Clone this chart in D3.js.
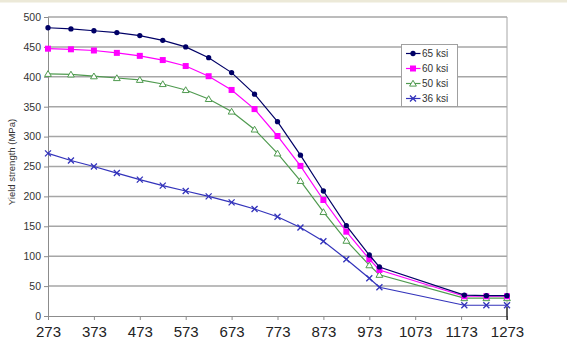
<!DOCTYPE html>
<html>
<head>
<meta charset="utf-8">
<script src="https://cdn.jsdelivr.net/npm/d3@7"></script>
<style>
  html, body { margin: 0; padding: 0; background: #fff; }
  svg { display: block; }
</style>
</head>
<body>
<svg id="chart" width="567" height="341"></svg>
<script>
// Temperature (K) and yield strength (MPa) for four steel grades
const temps = [273, 323, 373, 423, 473, 523, 573, 623, 673, 723, 773, 823, 873, 923, 973, 995, 1180, 1228, 1273];
const ksi65 = [482, 480, 477, 474, 469, 461, 450, 432, 407, 371, 325, 269, 209, 151, 102, 82, 35, 34, 34];
const ksi60 = [447, 446, 444, 440, 435, 428, 418, 401, 378, 346, 301, 251, 194, 141, 95, 77, 33, 33, 33];
const ksi50 = [405, 404, 401, 398, 395, 388, 378, 363, 342, 312, 272, 226, 174, 126, 85, 69, 30, 30, 30];
const ksi36 = [272, 260, 250, 239, 228, 218, 209, 200, 190, 179, 166, 148, 125, 95, 63, 48, 18, 18, 18];
const seriesNames = ["65 ksi", "60 ksi", "50 ksi", "36 ksi"];
const xTicks = [273, 373, 473, 573, 673, 773, 873, 973, 1073, 1173, 1273];
const yTicks = [0, 50, 100, 150, 200, 250, 300, 350, 400, 450, 500];

const svg = d3.select("#chart");

// thin window strip across the top
svg.append("rect").attr("x", 0).attr("y", 0).attr("width", 567).attr("height", 2.5).attr("fill", "#ece9d8");

const plot = { left: 48, right: 507, top: 17, bottom: 316 };
const x = d3.scaleLinear().domain([273, 1273]).range([plot.left, plot.right]);
const y = d3.scaleLinear().domain([0, 500]).range([plot.bottom, plot.top]);

// horizontal gridlines
svg.append("g").selectAll("line").data(yTicks.filter(v => v > 0)).join("line")
  .attr("x1", plot.left).attr("x2", plot.right)
  .attr("y1", d => y(d)).attr("y2", d => y(d))
  .attr("stroke", "#a6a6a6").attr("stroke-width", 1.5);

// right border of the plot area
svg.append("line").attr("x1", plot.right).attr("x2", plot.right)
  .attr("y1", plot.top).attr("y2", plot.bottom)
  .attr("stroke", "#a6a6a6").attr("stroke-width", 1);

// y axis
const yAxis = svg.append("g").attr("transform", `translate(${plot.left},0)`)
  .call(d3.axisLeft(y).tickValues(yTicks).tickSize(4).tickPadding(3));
yAxis.select(".domain").attr("stroke", "#8c8c8c");
yAxis.selectAll(".tick line").attr("stroke", "#8c8c8c");
yAxis.selectAll(".tick text").attr("font-family", "Arial, 'Liberation Sans', sans-serif")
  .attr("font-size", "10.5px").attr("fill", "#333");

// x axis
const xAxis = svg.append("g").attr("transform", `translate(0,${plot.bottom})`)
  .call(d3.axisBottom(x).tickValues(xTicks).tickFormat(d3.format("d")).tickSize(4).tickPadding(6));
xAxis.select(".domain").attr("stroke", "#8c8c8c");
xAxis.selectAll(".tick line").attr("stroke", "#8c8c8c");
xAxis.selectAll(".tick text").attr("font-family", "Arial, 'Liberation Sans', sans-serif")
  .attr("font-size", "15px").attr("fill", "#222");

// short dark marker at the end of the x axis
svg.append("line").attr("x1", x(1273)).attr("x2", x(1273))
  .attr("y1", plot.bottom - 9).attr("y2", plot.bottom + 4)
  .attr("stroke", "#111").attr("stroke-width", 1.2);

// y axis title
svg.append("text")
  .attr("transform", `translate(15,162) rotate(-90)`)
  .attr("text-anchor", "middle")
  .attr("font-family", "Arial, 'Liberation Sans', sans-serif")
  .attr("font-size", "9.5px").attr("fill", "#333")
  .text("Yield strength (MPa)");

const series = [
  { name: seriesNames[0], values: ksi65, color: "#000066", marker: "diamond" },
  { name: seriesNames[1], values: ksi60, color: "#ff00ff", marker: "square" },
  { name: seriesNames[2], values: ksi50, color: "#4f9a4f", marker: "triangle" },
  { name: seriesNames[3], values: ksi36, color: "#3333bb", marker: "cross" }
];

function drawMarker(g, type, color) {
  if (type === "diamond") {
    g.append("path").attr("d", d3.symbol(d3.symbolCircle, 22)()).attr("fill", color);
  } else if (type === "square") {
    g.append("rect").attr("x", -3).attr("y", -3).attr("width", 6).attr("height", 6).attr("fill", color);
  } else if (type === "triangle") {
    g.append("path").attr("d", "M0,-3.2L3.4,2.6L-3.4,2.6Z")
      .attr("fill", "#fff").attr("stroke", color).attr("stroke-width", 1);
  } else {
    g.append("path").attr("d", "M-3,-3L3,3M-3,3L3,-3")
      .attr("stroke", color).attr("stroke-width", 1.3).attr("fill", "none");
  }
}

const line = d3.line().x((d, i) => x(temps[i])).y(d => y(d));

series.slice().reverse().forEach(s => {
  svg.append("path").datum(s.values)
    .attr("d", line).attr("fill", "none")
    .attr("stroke", s.color).attr("stroke-width", 1.2);
  s.values.forEach((v, i) => {
    const g = svg.append("g").attr("transform", `translate(${x(temps[i])},${y(v)})`);
    drawMarker(g, s.marker, s.color);
  });
});

// legend
const legend = svg.append("g").attr("transform", "translate(401.5,44.5)");
legend.append("rect").attr("width", 56).attr("height", 62)
  .attr("fill", "#fff").attr("stroke", "#a0a0a0").attr("stroke-width", 1);
series.forEach((s, i) => {
  const row = legend.append("g").attr("transform", `translate(0,${9 + i * 15})`);
  row.append("line").attr("x1", 4.5).attr("x2", 19).attr("y1", 0).attr("y2", 0)
    .attr("stroke", s.color).attr("stroke-width", 1.2);
  const m = row.append("g").attr("transform", "translate(11.5,0)");
  drawMarker(m, s.marker, s.color);
  row.append("text").attr("x", 20.5).attr("y", 3.5)
    .attr("font-family", "Arial, 'Liberation Sans', sans-serif")
    .attr("font-size", "10px").attr("fill", "#333")
    .text(s.name);
});
</script>
</body>
</html>
